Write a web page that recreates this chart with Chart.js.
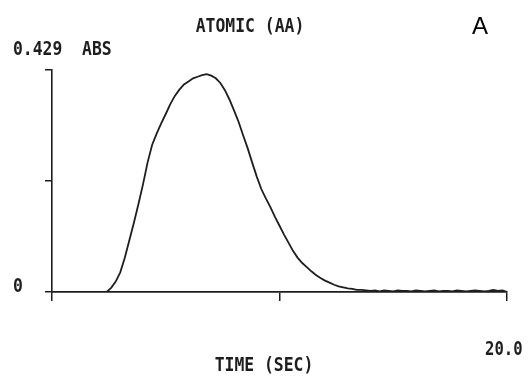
<!DOCTYPE html>
<html>
<head>
<meta charset="utf-8">
<script src="https://cdn.jsdelivr.net/npm/chart.js@4/dist/chart.umd.min.js"></script>
<style>
html,body{margin:0;padding:0;background:#fff;}
#wrap{width:528px;height:377px;}
</style>
</head>
<body>
<div id="wrap"><canvas id="c" width="528" height="377"></canvas></div>
<script>
const times = [0.0,0.2,0.4,0.6,0.8,1.0,1.2,1.4,1.6,1.8,2.0,2.2,2.4,2.6,2.8,3.0,3.2,3.4,3.6,3.8,4.0,4.2,4.4,4.6,4.8,5.0,5.2,5.4,5.6,5.8,6.0,6.2,6.4,6.6,6.8,7.0,7.2,7.4,7.6,7.8,8.0,8.2,8.4,8.6,8.8,9.0,9.2,9.4,9.6,9.8,10.0,10.2,10.4,10.6,10.8,11.0,11.2,11.4,11.6,11.8,12.0,12.2,12.4,12.6,12.8,13.0,13.2,13.4,13.6,13.8,14.0,14.2,14.4,14.6,14.8,15.0,15.2,15.4,15.6,15.8,16.0,16.2,16.4,16.6,16.8,17.0,17.2,17.4,17.6,17.8,18.0,18.2,18.4,18.6,18.8,19.0,19.2,19.4,19.6,19.8,20.0];
const absorbance = [0,0,0,0,0,0,0,0,0,0,0,0,0,
  0.008,0.020,0.038,0.066,0.100,0.134,0.170,0.208,0.250,0.284,0.306,0.326,0.344,0.363,0.379,0.391,0.401,0.407,0.413,0.416,0.419,0.421,0.418,0.413,0.404,0.390,0.372,0.351,0.329,0.303,0.278,0.250,0.223,0.199,0.181,0.164,0.145,0.128,0.111,0.095,0.079,0.066,0.056,0.048,0.040,0.033,0.027,0.022,0.018,0.014,0.011,0.009,0.007,0.006,0.004,0.004,0.003,
  0.002,0.003,0.001,0.003,0.002,0.001,0.003,0.002,0.002,0.001,0.003,0.002,0.001,0.002,0.003,0.001,0.002,0.002,0.001,0.003,0.002,0.001,0.002,0.003,0.002,0.001,0.002,0.004,0.002,0.003,0.000];
const xTicks = [0, 10, 20];
const yTicks = [0, 0.2145, 0.429];
const titleText = "ATOMIC (AA)";
const yTopLabel = "0.429  ABS";
const yZeroLabel = "0";
const xEndLabel = "20.0";
const xTitle = "TIME (SEC)";
const panelLabel = "A";

const ink = '#1e1e1e';
const mono = 'bold 20px "DejaVu Sans Mono"';

function condText(ctx, text, x, y, align, sx) {
  ctx.save();
  ctx.font = mono;
  const w = ctx.measureText(text).width * sx;
  let left = x;
  if (align === 'center') left = x - w / 2;
  else if (align === 'right') left = x - w;
  ctx.translate(left, y);
  ctx.scale(sx, 1);
  ctx.textAlign = 'left';
  ctx.textBaseline = 'alphabetic';
  ctx.fillStyle = ink;
  ctx.fillText(text, 0, 0);
  ctx.restore();
}

const textPlugin = {
  id: 'texts',
  afterDraw(chart) {
    const ctx = chart.ctx;
    condText(ctx, titleText, 250, 32, 'center', 0.82);
    condText(ctx, yTopLabel, 13, 55, 'left', 0.82);
    condText(ctx, yZeroLabel, 13, 292, 'left', 0.82);
    condText(ctx, xEndLabel, 485, 355, 'left', 0.78);
    condText(ctx, xTitle, 264, 371, 'center', 0.82);
    ctx.save();
    ctx.font = '24px "Liberation Sans"';
    ctx.fillStyle = '#000';
    ctx.textBaseline = 'alphabetic';
    ctx.fillText(panelLabel, 472, 34);
    ctx.restore();
  }
};

new Chart(document.getElementById('c'), {
  type: 'line',
  data: {
    labels: times,
    datasets: [{
      data: times.map((t, i) => ({x: t, y: absorbance[i]})),
      borderColor: ink,
      borderWidth: 1.8,
      pointRadius: 0,
      tension: 0,
      fill: false
    }]
  },
  options: {
    responsive: false,
    devicePixelRatio: 1,
    animation: false,
    layout: { padding: { left: 45, right: 21, top: 70, bottom: 76 } },
    plugins: { legend: { display: false }, tooltip: { enabled: false }, title: { display: false } },
    scales: {
      x: {
        type: 'linear', min: 0, max: 20,
        afterBuildTicks: s => { s.ticks = xTicks.map(v => ({value: v})); },
        ticks: { display: false },
        grid: { drawOnChartArea: false, tickLength: 9, color: ink, lineWidth: 1.5 },
        border: { color: ink, width: 1.8 }
      },
      y: {
        type: 'linear', min: 0, max: 0.429,
        afterBuildTicks: s => { s.ticks = yTicks.map(v => ({value: v})); },
        ticks: { display: false },
        grid: { drawOnChartArea: false, tickLength: 7, color: ink, lineWidth: 1.5 },
        border: { color: ink, width: 1.6 }
      }
    }
  },
  plugins: [textPlugin]
});
</script>
</body>
</html>
